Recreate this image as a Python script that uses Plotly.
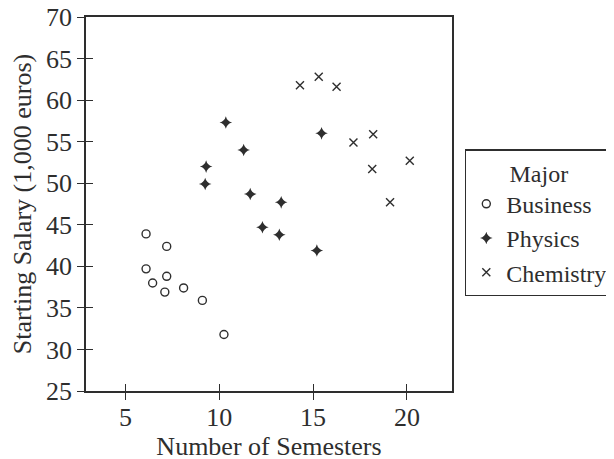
import plotly.graph_objects as go

# Data
business_semesters = [6.1, 7.2, 6.1, 7.2, 6.45, 7.1, 8.1, 9.1, 10.25]
business_salary = [43.9, 42.4, 39.7, 38.8, 38.0, 36.9, 37.4, 35.9, 31.8]

physics_semesters = [10.35, 11.3, 9.3, 9.25, 11.65, 13.3, 12.3, 13.2, 15.2, 15.45]
physics_salary = [57.3, 54.0, 52.0, 49.9, 48.7, 47.7, 44.7, 43.8, 41.9, 56.0]

chemistry_semesters = [14.3, 15.3, 16.25, 17.15, 18.2, 18.15, 20.15, 19.1]
chemistry_salary = [61.8, 62.8, 61.6, 54.9, 55.9, 51.7, 52.7, 47.7]

x_ticks = [5, 10, 15, 20]
y_ticks = [25, 30, 35, 40, 45, 50, 55, 60, 65, 70]

FONT = "Liberation Serif"
INK = "#2e2e2e"

fig = go.Figure()
fig.add_trace(go.Scatter(
    x=business_semesters, y=business_salary, mode="markers", name="Business",
    marker=dict(symbol="circle-open", size=8, color=INK, line=dict(width=1.4, color=INK)),
))
fig.add_trace(go.Scatter(
    x=physics_semesters, y=physics_salary, mode="markers", name="Physics",
    marker=dict(symbol="star-diamond", size=9, color=INK, line=dict(width=0)),
))
fig.add_trace(go.Scatter(
    x=chemistry_semesters, y=chemistry_salary, mode="markers", name="Chemistry",
    marker=dict(symbol="x-thin-open", size=8, color=INK, line=dict(width=1.4, color=INK)),
))
# invisible trace to hold the inner-tick overlay axes
fig.add_trace(go.Scatter(
    x=business_semesters, y=business_salary, mode="markers", xaxis="x2", yaxis="y2",
    marker=dict(opacity=0), showlegend=False, hoverinfo="skip",
))

axis_common = dict(showgrid=False, zeroline=False, linecolor=INK, linewidth=1.5,
                   tickcolor=INK, tickwidth=1.3, ticklen=7, automargin=False,
                   ticklabeloverflow="allow",
                   tickfont=dict(family=FONT, size=26, color=INK))

fig.update_layout(
    width=614, height=459,
    paper_bgcolor="white", plot_bgcolor="white",
    margin=dict(l=78, r=170, t=9, b=76),
    font=dict(family=FONT, size=26, color=INK),
    xaxis=dict(range=[2.9, 22.4], tickvals=x_ticks, ticks="outside", showline=True, mirror=True,
               ticklabelstandoff=-5,
               title=dict(text="Number of Semesters", font=dict(family=FONT, size=26, color=INK), standoff=5),
               **axis_common),
    yaxis=dict(range=[25, 70], tickvals=y_ticks, ticks="outside", showline=True, mirror=True,
               title=dict(text="Starting Salary (1,000 euros)", font=dict(family=FONT, size=26, color=INK), standoff=10),
               **axis_common),
    xaxis2=dict(range=[2.9, 22.4], tickvals=x_ticks, ticks="inside", showticklabels=False, automargin=False,
                overlaying="x", showgrid=False, zeroline=False, ticklen=7, tickcolor=INK, tickwidth=1.3),
    yaxis2=dict(range=[25, 70], tickvals=y_ticks, ticks="inside", showticklabels=False, automargin=False,
                overlaying="y", showgrid=False, zeroline=False, ticklen=7, tickcolor=INK, tickwidth=1.3),
    legend=dict(
        x=1.035, xanchor="left", y=0.647, yanchor="top",
        bordercolor=INK, borderwidth=1.5, bgcolor="white",
        font=dict(family=FONT, size=24, color=INK),
        title=dict(text="Major", side="top center", font=dict(family=FONT, size=24, color=INK)),
        itemwidth=30, tracegroupgap=0,
    ),
    showlegend=True,
)

fig.write_html("out.html", config={"displayModeBar": False})
